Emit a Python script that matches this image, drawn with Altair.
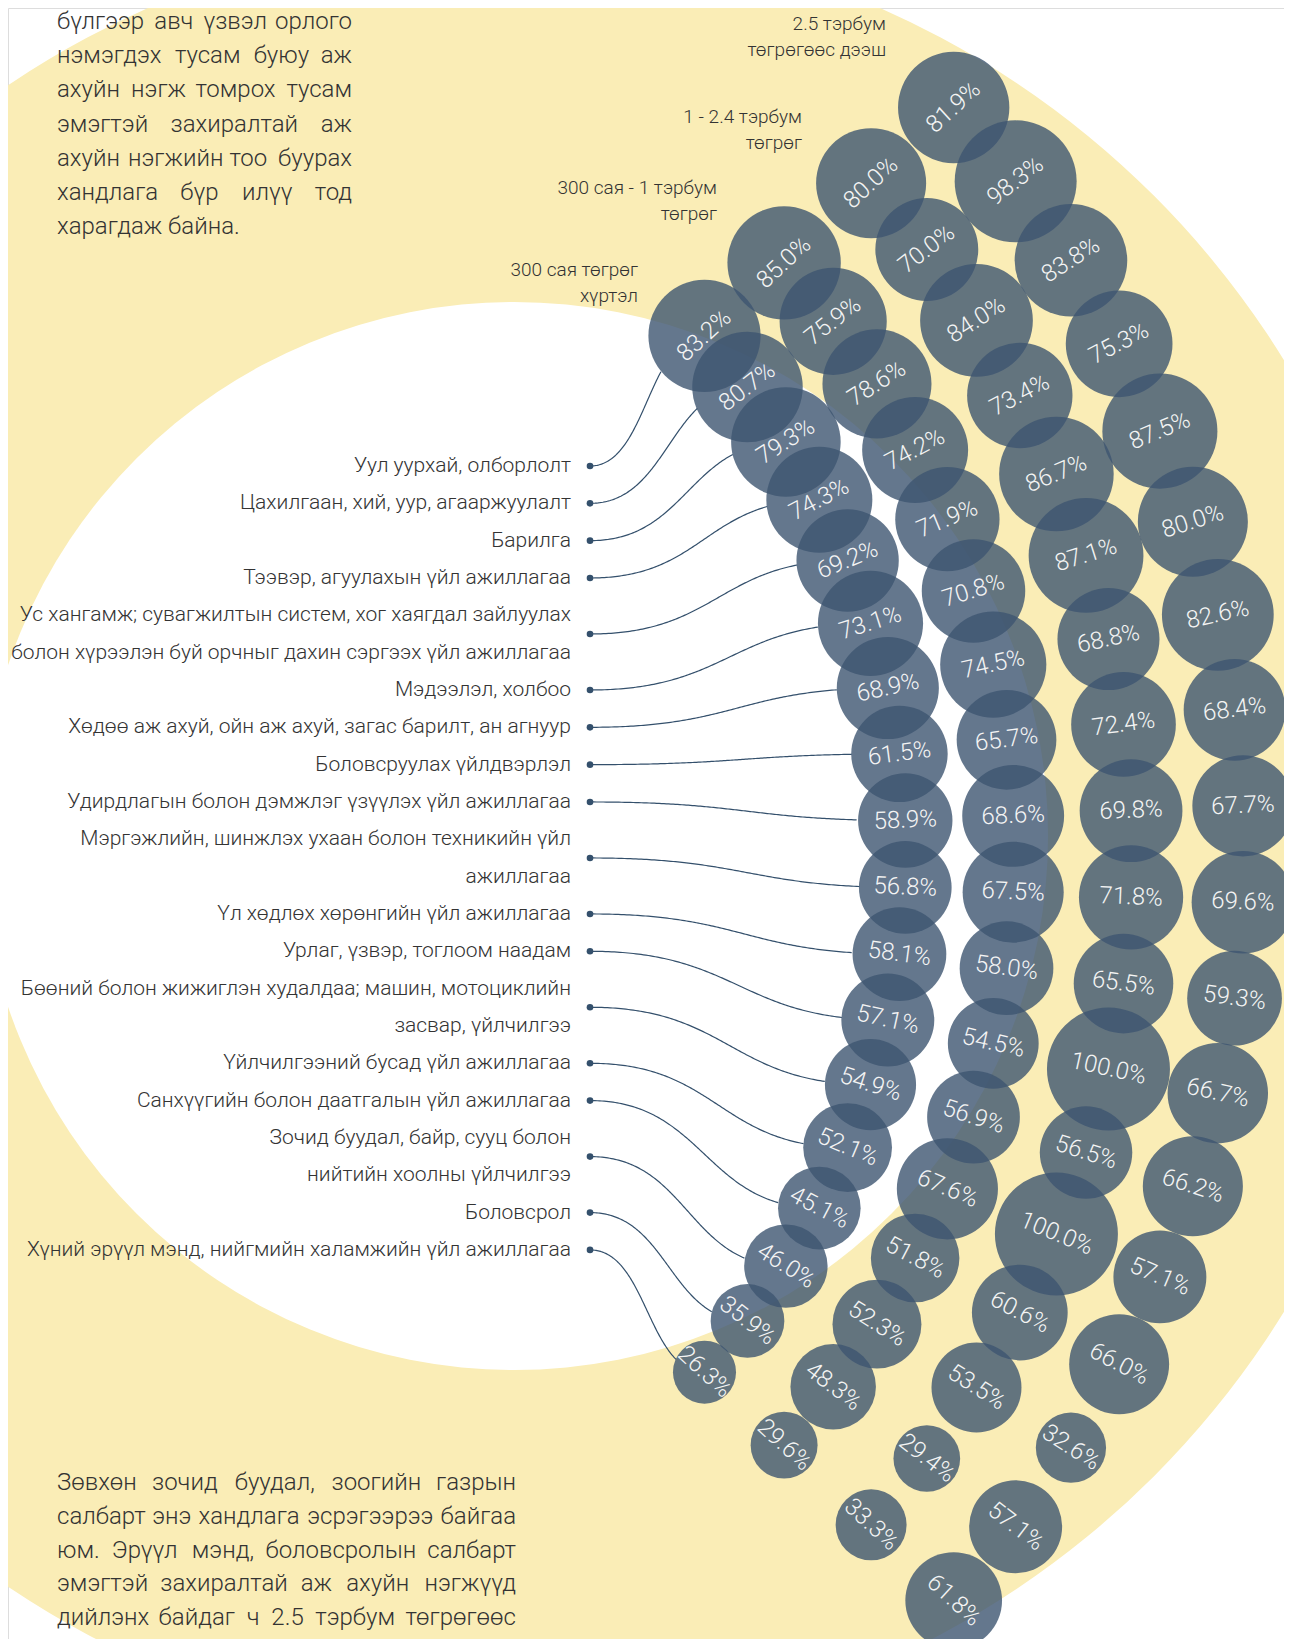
import math
import altair as alt
import pandas as pd
import numpy as np

# ---------------- data ----------------
industries = [
    ["Уул уурхай, олборлолт"],
    ["Цахилгаан, хий, уур, агааржуулалт"],
    ["Барилга"],
    ["Тээвэр, агуулахын үйл ажиллагаа"],
    ["Ус хангамж; сувагжилтын систем, хог хаягдал зайлуулах",
     "болон хүрээлэн буй орчныг дахин сэргээх үйл ажиллагаа"],
    ["Мэдээлэл, холбоо"],
    ["Хөдөө аж ахуй, ойн аж ахуй, загас барилт, ан агнуур"],
    ["Боловсруулах үйлдвэрлэл"],
    ["Удирдлагын болон дэмжлэг үзүүлэх үйл ажиллагаа"],
    ["Мэргэжлийн, шинжлэх ухаан болон техникийн үйл", "ажиллагаа"],
    ["Үл хөдлөх хөрөнгийн үйл ажиллагаа"],
    ["Урлаг, үзвэр, тоглоом наадам"],
    ["Бөөний болон жижиглэн худалдаа; машин, мотоциклийн", "засвар, үйлчилгээ"],
    ["Үйлчилгээний бусад үйл ажиллагаа"],
    ["Санхүүгийн болон даатгалын үйл ажиллагаа"],
    ["Зочид буудал, байр, сууц болон", "нийтийн хоолны үйлчилгээ"],
    ["Боловсрол"],
    ["Хүний эрүүл мэнд, нийгмийн халамжийн үйл ажиллагаа"],
]

groups = [
    ["300 сая төгрөг", "хүртэл"],
    ["300 сая - 1 тэрбум", "төгрөг"],
    ["1 - 2.4 тэрбум", "төгрөг"],
    ["2.5 тэрбум", "төгрөгөөс дээш"],
]

share_300m = [83.2, 80.7, 79.3, 74.3, 69.2, 73.1, 68.9, 61.5, 58.9, 56.8,
              58.1, 57.1, 54.9, 52.1, 45.1, 46.0, 35.9, 26.3]
share_300m_1b = [85.0, 75.9, 78.6, 74.2, 71.9, 70.8, 74.5, 65.7, 68.6, 67.5,
                 58.0, 54.5, 56.9, 67.6, 51.8, 52.3, 48.3, 29.6]
share_1b_24b = [80.0, 70.0, 84.0, 73.4, 86.7, 87.1, 68.8, 72.4, 69.8, 71.8,
                65.5, 100.0, 56.5, 100.0, 60.6, 53.5, 29.4, 33.3]
share_25b = [81.9, 98.3, 83.8, 75.3, 87.5, 80.0, 82.6, 68.4, 67.7, 69.6,
             59.3, 66.7, 66.2, 57.1, 66.0, 32.6, 57.1, 61.8]
series = [share_300m, share_300m_1b, share_1b_24b, share_25b]

text_top = [
    "бүлгээр авч үзвэл орлого",
    "нэмэгдэх тусам буюу аж",
    "ахуйн нэгж томрох тусам",
    "эмэгтэй захиралтай аж",
    "ахуйн нэгжийн тоо буурах",
    "хандлага бүр илүү тод",
    "харагдаж байна.",
]
text_bottom = [
    "Зөвхөн зочид буудал, зоогийн газрын",
    "салбарт энэ хандлага эсрэгээрээ байгаа",
    "юм. Эрүүл мэнд, боловсролын салбарт",
    "эмэгтэй захиралтай аж ахуйн нэгжүүд",
    "дийлэнх байдаг ч 2.5 тэрбум төгрөгөөс",
    "дээш жилийн борлуулалтын орлоготой",
]

# ---------------- layout ----------------
CX, CY = 139.0, 854.0          # centre of the bubble arcs
RADII = [767, 875, 993, 1105]  # arc radius of each revenue group
STEP = 5.0                     # degrees between industries
R_PER_SQRT = 6.15              # bubble radius = R_PER_SQRT * sqrt(pct)
SIZE_PER_PCT = 4 * R_PER_SQRT ** 2   # vega symbol size = diameter^2
BUBBLE = "#3d5571"
LINK = "#34506c"
YELLOW = "#FAEDB6"
INK = "#333333"
FONT = "Roboto"
HEAD_POS = [(638, 283), (717, 201), (802, 130), (886, 37)]  # right edge / centre of header blocks

n = len(industries)
rows = []
for c, vals in enumerate(series):
    for i, v in enumerate(vals):
        th = (i - (n - 1) / 2) * STEP
        t = math.radians(th)
        rows.append(dict(col=c, idx=i, v=v,
                         x=CX + RADII[c] * math.cos(t),
                         y=CY + RADII[c] * math.sin(t),
                         ang=th % 360, lab=f"{v:.1f}%"))
bubbles = pd.DataFrame(rows)

# labels, dots and connector curves
LINE0, LH = 466.0, 37.33
lab_rows, dots, links = [], [], []
slot = 0
for i, lines in enumerate(industries):
    ys = []
    for ln in lines:
        y = LINE0 + slot * LH
        lab_rows.append(dict(x=571, y=y, t=ln))
        ys.append(y)
        slot += 1
    yd = float(np.mean(ys))
    dots.append(dict(x=590, y=yd))
    b = bubbles[(bubbles.col == 0) & (bubbles.idx == i)].iloc[0]
    x0, y0, x1, y1 = 590.0, yd, b.x, b.y
    rb = R_PER_SQRT * math.sqrt(b.v)
    xm = (x0 + x1) / 2
    for k, tt in enumerate(np.linspace(0, 1, 140)):
        u = 1 - tt
        px = u**3 * x0 + 3 * u * u * tt * xm + 3 * u * tt * tt * xm + tt**3 * x1
        py = u**3 * y0 + 3 * u * u * tt * y0 + 3 * u * tt * tt * y1 + tt**3 * y1
        if math.hypot(px - x1, py - y1) >= rb - 1:
            links.append(dict(id=i, k=k, x=px, y=py))
labels = pd.DataFrame(lab_rows)
dots = pd.DataFrame(dots)
links = pd.DataFrame(links)

# group headers
head_rows = []
for (hx, hy), lines in zip(HEAD_POS, groups):
    for j, ln in enumerate(lines):
        head_rows.append(dict(x=hx, y=hy - 13 + j * 26, t=ln))
heads = pd.DataFrame(head_rows)

# justified paragraphs (word by word)
PFS = 24
WIDE = set("шщжмыюШЩЖМЫЮ%")
NARROW = set(".,;:!'")
THIN = set("ijlгтrf1")


def est_width(word):
    w = 0.0
    for ch in word:
        if ch in WIDE:
            w += 0.72
        elif ch in NARROW:
            w += 0.22
        elif ch in THIN:
            w += 0.44
        elif ch.isupper():
            w += 0.62
        else:
            w += 0.535
    return w * PFS


def paragraph(lines, left, right, top, lh, last_justified):
    out = []
    for j, s in enumerate(lines):
        y = top + j * lh
        words = s.split(" ")
        justify = (j < len(lines) - 1) or last_justified
        if not justify or len(words) == 1:
            out.append(dict(x=left, y=y, t=s, a="left"))
            continue
        ws = [est_width(w) for w in words]
        gap = (right - left - sum(ws)) / (len(words) - 1)
        pos = left
        for k, (w, wd) in enumerate(zip(words, ws)):
            if k == 0:
                out.append(dict(x=left, y=y, t=w, a="left"))
            elif k == len(words) - 1:
                out.append(dict(x=right, y=y, t=w, a="right"))
            else:
                out.append(dict(x=pos + wd / 2, y=y, t=w, a="center"))
            pos += wd + gap
    return out


para = pd.DataFrame(
    paragraph(text_top, 57, 352, 22, 34.2, False)
    + paragraph(text_bottom, 57, 516, 1483, 33.8, True)
)

# background ring: yellow disc with a white inner disc
discs = pd.DataFrame([dict(x=514, y=836, r=905, c="y"), dict(x=514, y=836, r=534, c="w")])
discs["s"] = (2 * discs.r) ** 2

# ---------------- chart ----------------
XS = alt.Scale(domain=[8, 1284], nice=False, zero=False)
YS = alt.Scale(domain=[8, 1639], nice=False, zero=False, reverse=True)
X = alt.X("x:Q", scale=XS, axis=None)
Y = alt.Y("y:Q", scale=YS, axis=None)

bg = alt.Chart(discs).mark_circle(opacity=1, clip=True).encode(
    x=X, y=Y,
    size=alt.Size("s:Q", scale=None, legend=None),
    color=alt.Color("c:N", scale=alt.Scale(domain=["y", "w"], range=[YELLOW, "#ffffff"]), legend=None),
    order=alt.Order("r:Q", sort="descending"),
)

link_layer = alt.Chart(links).mark_line(strokeWidth=1.2, color=LINK, clip=True).encode(
    x=X, y=Y, detail="id:N", order="k:Q")

dot_layer = alt.Chart(dots).mark_circle(size=44, color=LINK, opacity=1).encode(x=X, y=Y)

bubble_layer = alt.Chart(bubbles).mark_circle(color=BUBBLE, opacity=0.8, clip=True).encode(
    x=X, y=Y,
    size=alt.Size("v:Q", scale=alt.Scale(domain=[0, 100], range=[0, SIZE_PER_PCT * 100]), legend=None),
)

pct_layer = alt.Chart(bubbles).mark_text(
    font=FONT, fontSize=24, fontWeight=300, color="#f4f4f4",
    align="center", baseline="middle", clip=True
).encode(x=X, y=Y, text="lab:N", angle=alt.Angle("ang:Q", scale=None))

label_layer = alt.Chart(labels).mark_text(
    font=FONT, fontSize=21, fontWeight=300, color=INK, align="right", baseline="middle"
).encode(x=X, y=Y, text="t:N")

head_layer = alt.Chart(heads).mark_text(
    font=FONT, fontSize=19, fontWeight=300, color=INK, align="right", baseline="middle"
).encode(x=X, y=Y, text="t:N")

para_layers = [
    alt.Chart(para[para.a == a]).mark_text(
        font=FONT, fontSize=PFS, fontWeight=300, color=INK, align=a, baseline="middle"
    ).encode(x=X, y=Y, text="t:N")
    for a in ["left", "center", "right"]
]

chart = alt.layer(
    bg, link_layer, dot_layer, bubble_layer, pct_layer, label_layer, head_layer, *para_layers
).properties(
    width=1276, height=1631, autosize=alt.AutoSizeParams(type="none"), padding=0
).configure_view(stroke=None).configure(background="#ffffff")

chart.save("out.html", embed_options={"renderer": "svg", "actions": False})
